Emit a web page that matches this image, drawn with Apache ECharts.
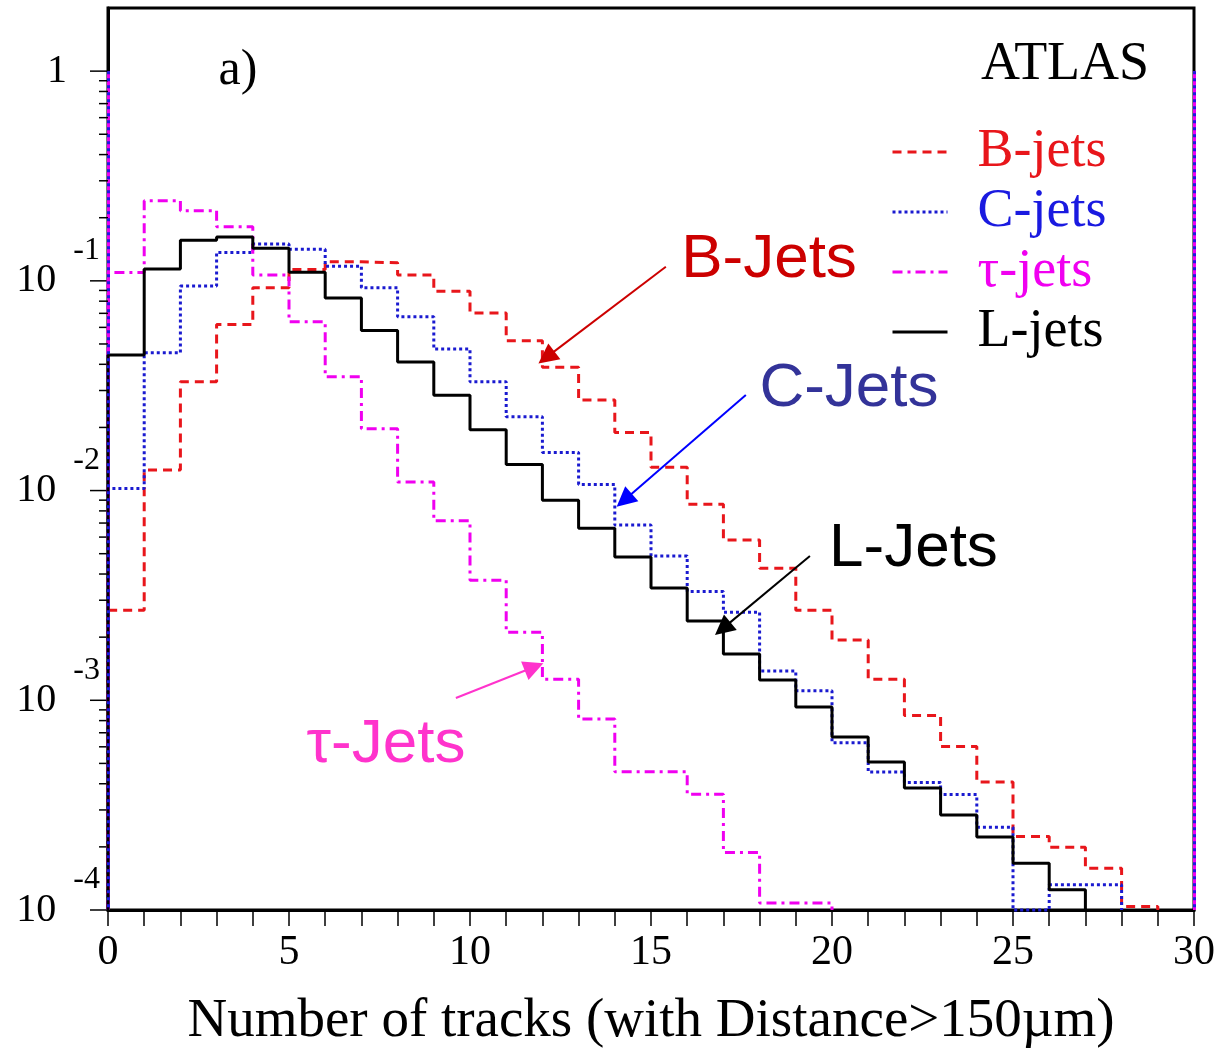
<!DOCTYPE html>
<html>
<head>
<meta charset="utf-8">
<script src="https://cdn.jsdelivr.net/npm/echarts@6/dist/echarts.min.js"></script>
<style>
html, body { margin: 0; padding: 0; background: #fff; }
#main { width: 1220px; height: 1049px; }
</style>
</head>
<body>
<div id="main"></div>
<script>
// fraction of jets per bin (one bin per track count, starting at 0)
var bJets = [0.00269, 0.01253, 0.0330, 0.0620, 0.0927, 0.1134, 0.1233, 0.1219, 0.1065, 0.0893,
  0.0702, 0.0518, 0.0387, 0.0270, 0.0189, 0.0129, 0.00861, 0.00581, 0.00426, 0.00269,
  0.00194, 0.00126, 0.000846, 0.000602, 0.000408, 0.000224, 0.000199, 0.000158, 0.000104];
var cJets = [0.01024, 0.0454, 0.0944, 0.1367, 0.1497, 0.1413, 0.1175, 0.0927, 0.0674, 0.0473,
  0.0330, 0.0225, 0.0152, 0.0107, 0.00685, 0.00488, 0.00330, 0.00263, 0.00138, 0.00111,
  0.000628, 0.000455, 0.000406, 0.000355, 0.000248, 0.0001, 0.000132, 0.000132];
var tauJets = [0.1097, 0.241, 0.216, 0.181, 0.1065, 0.0638, 0.0349, 0.0197, 0.0110, 0.00718,
  0.00374, 0.00211, 0.00126, 0.000814, 0.000456, 0.000456, 0.000356, 0.000188, 0.000108, 0.000108];
var lJets = [0.0443, 0.1138, 0.156, 0.162, 0.143, 0.110, 0.0828, 0.0579, 0.0410, 0.0285,
  0.0195, 0.0133, 0.0090, 0.00662, 0.00482, 0.00343, 0.00239, 0.00166, 0.00125, 0.000929,
  0.000668, 0.000508, 0.000382, 0.000284, 0.000223, 0.000167, 0.000125];

var seriesNames = ['B-jets', 'C-jets', 'τ-jets', 'L-jets'];
var yDecades = [-4, -3, -2, -1, 0];
var yMinorSteps = [2, 3, 4, 5, 6, 7, 8, 9];

// annotation arrows: [from, to] in data units, and text centres
var arrowB = [[15.41, 0.1167], [12.11, 0.04315]];
var arrowC = [[17.62, 0.02853], [14.26, 0.00899]];
var arrowL = [[19.39, 0.004871], [16.98, 0.002196]];
var arrowTau = [[9.61, 0.001025], [11.77, 0.001441]];
var textB = [18.26, 0.1256];
var textC = [20.47, 0.0305];
var textL = [22.25, 0.00526];
var textTau = [7.68, 0.000612];
var textPanel = [3.59, 1.0];
var textAtlas = [26.44, 1.068];

var YMIN = 1e-4;

function histPoints(vals) {
  var pts = [[0, YMIN]];
  for (var i = 0; i < vals.length; i++) pts.push([i, vals[i]]);
  pts.push([vals.length, vals[vals.length - 1]]);
  pts.push([vals.length, YMIN]);
  return pts;
}

function arrow(a, color) {
  return [
    { coord: a[0], symbol: 'none', lineStyle: { color: color, width: 2, type: 'solid' } },
    { coord: a[1], symbol: 'triangle', symbolSize: 20 }
  ];
}

function note(pos, text, color) {
  return {
    coord: pos, value: text,
    label: { show: true, position: 'inside', formatter: text, color: color,
      fontFamily: 'Liberation Sans', fontSize: 62 }
  };
}

var tickData = [];
yDecades.forEach(function (e) {
  tickData.push([0, Math.pow(10, e), 18]);
  if (e < 0) yMinorSteps.forEach(function (k) { tickData.push([0, k * Math.pow(10, e), 9]); });
});

var myChart = echarts.init(document.getElementById('main'));
myChart.setOption({
  animation: false,
  textStyle: { fontFamily: 'Liberation Serif', color: '#000' },
  grid: { left: 108, right: 26, top: 8, bottom: 139, show: true, borderColor: '#000', borderWidth: 3,
    backgroundColor: 'transparent', outerBoundsMode: 'none' },
  legend: {
    orient: 'vertical', left: 886, top: 117, itemWidth: 55, itemHeight: 14, itemGap: 0,
    selectedMode: false,
    itemStyle: { opacity: 0 },
    lineStyle: { width: 3 },
    textStyle: { fontFamily: 'Liberation Serif', fontSize: 54, lineHeight: 60, padding: [0, 0, 0, 25] },
    data: [
      { name: 'B-jets', textStyle: { color: '#e8161b' } },
      { name: 'C-jets', textStyle: { color: '#1a1ae0' } },
      { name: 'τ-jets', textStyle: { color: '#f000f0' } },
      { name: 'L-jets', textStyle: { color: '#000' } }
    ]
  },
  xAxis: {
    type: 'value', min: 0, max: 30, interval: 5,
    axisLine: { show: true, onZero: false, lineStyle: { color: '#000', width: 3 } },
    axisTick: { show: true, inside: false, length: 16, lineStyle: { color: '#000', width: 1.5 } },
    minorTick: { show: true, splitNumber: 5, length: 16, lineStyle: { color: '#000', width: 1.5 } },
    splitLine: { show: false },
    minorSplitLine: { show: false },
    axisLabel: { fontFamily: 'Liberation Serif', fontSize: 42, color: '#000', margin: 22 },
    name: 'Number of tracks (with Distance>150µm)',
    nameLocation: 'middle', nameGap: 84,
    nameTextStyle: { fontFamily: 'Liberation Serif', fontSize: 55, color: '#000' }
  },
  yAxis: {
    type: 'log', logBase: 10, min: YMIN, max: 2,
    axisLine: { show: true, onZero: false, lineStyle: { color: '#000', width: 3 } },
    axisTick: { show: false },
    splitLine: { show: false },
    axisLabel: {
      margin: 8, showMaxLabel: false, color: '#000',
      formatter: function (v) {
        var l = Math.log10(v), e = Math.round(l);
        if (Math.abs(l - e) > 0.01) return '';
        if (e === 0) return '{one|1}';
        return '{b|10}{s|' + e + '}';
      },
      rich: {
        one: { fontFamily: 'Liberation Serif', fontSize: 40, color: '#000', padding: [0, 33, 0, 0] },
        b: { fontFamily: 'Liberation Serif', fontSize: 40, color: '#000', lineHeight: 92, verticalAlign: 'middle' },
        s: { fontFamily: 'Liberation Serif', fontSize: 32, color: '#000', lineHeight: 32, verticalAlign: 'top', padding: [0, 0, 0, 17] }
      }
    }
  },
  series: [
    {
      name: 'B-jets', type: 'line', step: 'end', showSymbol: false, symbol: 'none', clip: false,
      data: histPoints(bJets),
      lineStyle: { color: '#e8161b', width: 3, type: [9, 6] },
      itemStyle: { color: '#e8161b' },
      markLine: { silent: true, animation: false, label: { show: false }, itemStyle: { color: '#cc0000' },
        data: [arrow(arrowB, '#cc0000')] },
      markPoint: { silent: true, symbol: 'circle', symbolSize: 1, itemStyle: { color: 'transparent' },
        data: [note(textB, 'B-Jets', '#cc0000')] }
    },
    {
      name: 'C-jets', type: 'line', step: 'end', showSymbol: false, symbol: 'none', clip: false,
      data: histPoints(cJets),
      lineStyle: { color: '#1a1ad0', width: 3, type: [3, 3] },
      itemStyle: { color: '#1a1ad0' },
      markLine: { silent: true, animation: false, label: { show: false }, itemStyle: { color: '#0000ff' },
        data: [
          arrow(arrowC, '#0000ff'),
          [{ coord: [0, 1], symbol: 'none', lineStyle: { color: '#1a1ae0', width: 3, type: [3, 4] } }, { coord: [0, YMIN], symbol: 'none' }],
          [{ coord: [30, 1], symbol: 'none', lineStyle: { color: '#1a1ae0', width: 3, type: [3, 4] } }, { coord: [30, YMIN], symbol: 'none' }]
        ] },
      markPoint: { silent: true, symbol: 'circle', symbolSize: 1, itemStyle: { color: 'transparent' },
        data: [note(textC, 'C-Jets', '#333399')] }
    },
    {
      name: 'τ-jets', type: 'line', step: 'end', showSymbol: false, symbol: 'none', clip: false,
      data: histPoints(tauJets),
      lineStyle: { color: '#f000f0', width: 3, type: [10, 5, 3, 5] },
      itemStyle: { color: '#f000f0' },
      markLine: { silent: true, animation: false, label: { show: false }, itemStyle: { color: '#ff33cc' }, z: 1,
        data: [
          arrow(arrowTau, '#ff33cc'),
          [{ coord: [0, 1], symbol: 'none', lineStyle: { color: '#f000f0', width: 3, type: 'solid' } }, { coord: [0, YMIN], symbol: 'none' }],
          [{ coord: [30, 1], symbol: 'none', lineStyle: { color: '#f000f0', width: 3, type: 'solid' } }, { coord: [30, YMIN], symbol: 'none' }]
        ] },
      markPoint: { silent: true, symbol: 'circle', symbolSize: 1, itemStyle: { color: 'transparent' },
        data: [note(textTau, 'τ-Jets', '#ff33cc')] }
    },
    {
      name: 'L-jets', type: 'line', step: 'end', showSymbol: false, symbol: 'none', clip: false,
      data: histPoints(lJets),
      lineStyle: { color: '#000', width: 3, type: 'solid' },
      itemStyle: { color: '#000' },
      markLine: { silent: true, animation: false, label: { show: false }, itemStyle: { color: '#000' },
        data: [arrow(arrowL, '#000')] },
      markPoint: { silent: true, symbol: 'circle', symbolSize: 1, itemStyle: { color: 'transparent' },
        data: [
          note(textL, 'L-Jets', '#000'),
          { coord: textPanel, value: 'a)', label: { show: true, position: 'inside', formatter: 'a)', color: '#000', fontFamily: 'Liberation Serif', fontSize: 50 } },
          { coord: textAtlas, value: 'ATLAS', label: { show: true, position: 'inside', formatter: 'ATLAS', color: '#000', fontFamily: 'Liberation Serif', fontSize: 54 } }
        ] }
    },
    {
      // y-axis ticks at 1..9 x 10^n, drawn through the axis scale
      type: 'custom', silent: true, clip: false,
      data: tickData,
      renderItem: function (params, api) {
        var p = api.coord([api.value(0), api.value(1)]);
        var len = api.value(2);
        return { type: 'line', shape: { x1: p[0] - len, y1: p[1], x2: p[0], y2: p[1] },
          style: { stroke: '#000', lineWidth: 1.5 } };
      }
    }
  ]
});
</script>
</body>
</html>
